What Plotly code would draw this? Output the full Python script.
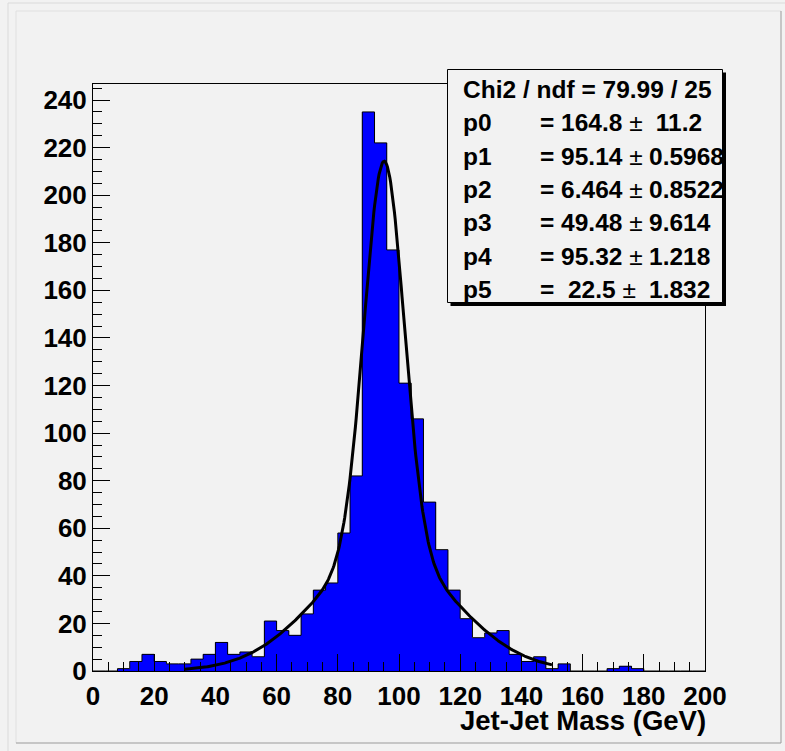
import numpy as np
import plotly.graph_objects as go

# ---------------- data ----------------
bin_low = [0, 4, 8, 12, 16, 20, 24, 28, 32, 36, 40, 44, 48, 52, 56, 60, 64, 68, 72, 76,
           80, 84, 88, 92, 96, 100, 104, 108, 112, 116, 120, 124, 128, 132, 136, 140,
           144, 148, 152, 156, 160, 164, 168, 172, 176, 180, 184, 188, 192, 196]
bin_width = 4
counts = [0, 0, 1, 4, 7, 4, 3, 3, 5, 7, 12, 7, 8, 6, 21, 17, 15, 24, 34, 37,
          58, 82, 235, 222, 177, 121, 106, 71, 51, 34, 22, 14, 16, 17, 7, 4,
          6, 1, 3, 0, 0, 0, 1, 2, 1, 0, 0, 0, 0, 0]

param_names = ["p0", "p1", "p2", "p3", "p4", "p5"]
param_values = [164.8, 95.14, 6.464, 49.48, 95.32, 22.5]
param_errors = [11.2, 0.5968, 0.8522, 9.614, 1.218, 1.832]
chi2_value = 79.99
ndf_value = 25
fit_range = [30, 150]

x_ticks = [0, 20, 40, 60, 80, 100, 120, 140, 160, 180, 200]
y_ticks = [0, 20, 40, 60, 80, 100, 120, 140, 160, 180, 200, 220, 240]
x_title = "Jet-Jet Mass (GeV)"

# ---------------- geometry ----------------
W, H = 785, 751
ML, MR, MT, MB = 93, 80, 84, 80
PW, PH = W - ML - MR, H - MT - MB
BG = "#f2f2f2"
FONT = "Liberation Sans, Arial, sans-serif"

def px(x):
    return (x - ML) / PW

def py(y):
    return (H - MB - y) / PH

# ---------------- fit curve (double Gaussian with the fit parameters shown) ----------------
p0, p1, p2, p3, p4, p5 = param_values
xf = np.linspace(fit_range[0], fit_range[1], 481)
yf = p0 * np.exp(-0.5 * ((xf - p1) / p2) ** 2) + p3 * np.exp(-0.5 * ((xf - p4) / p5) ** 2)

centers = [b + bin_width / 2 for b in bin_low]
edges = bin_low + [bin_low[-1] + bin_width]
step_y = counts + [counts[-1]]

fig = go.Figure()
fig.add_trace(go.Bar(x=centers, y=counts, width=bin_width,
                     marker=dict(color="#0000ff", line=dict(width=0)),
                     hoverinfo="skip", showlegend=False))
fig.add_trace(go.Scatter(x=edges, y=step_y, mode="lines",
                         line=dict(color="#000000", width=1, shape="hv"),
                         hoverinfo="skip", showlegend=False))
fig.add_trace(go.Scatter(x=xf, y=yf, mode="lines",
                         line=dict(color="#000000", width=3),
                         hoverinfo="skip", showlegend=False))

ymax = 1.05 * max(counts)

tickfont = dict(family=FONT, size=26, color="#000000", weight="bold")
fig.update_layout(
    width=W, height=H,
    margin=dict(l=ML, r=MR, t=MT, b=MB, autoexpand=False),
    paper_bgcolor=BG, plot_bgcolor=BG,
    bargap=0,
    showlegend=False,
    xaxis=dict(range=[0, 200], tickvals=x_ticks, ticktext=[str(v) for v in x_ticks],
               ticks="inside", ticklen=17, tickwidth=1, tickcolor="#000000",
               minor=dict(ticks="inside", ticklen=9, dtick=5, tickwidth=1, tickcolor="#000000", showgrid=False),
               showline=True, linecolor="#000000", linewidth=1, mirror=True,
               showgrid=False, zeroline=False, tickfont=tickfont, ticklabelstandoff=2),
    yaxis=dict(range=[0, ymax], tickvals=y_ticks, ticktext=[str(v) for v in y_ticks],
               ticks="inside", ticklen=17, tickwidth=1, tickcolor="#000000",
               minor=dict(ticks="inside", ticklen=9, dtick=5, tickwidth=1, tickcolor="#000000", showgrid=False),
               showline=True, linecolor="#000000", linewidth=1, mirror=True,
               showgrid=False, zeroline=False, tickfont=tickfont),
)

shapes = []
# canvas bevel borders
shapes.append(dict(type="line", xref="paper", yref="paper", x0=px(8), x1=px(785), y0=py(3), y1=py(3),
                   line=dict(color="#dadada", width=1)))
shapes.append(dict(type="line", xref="paper", yref="paper", x0=px(8), x1=px(8), y0=py(3), y1=py(751),
                   line=dict(color="#dadada", width=1)))
shapes.append(dict(type="line", xref="paper", yref="paper", x0=px(16), x1=px(781), y0=py(11), y1=py(11),
                   line=dict(color="#e0e0e0", width=1)))
shapes.append(dict(type="line", xref="paper", yref="paper", x0=px(16), x1=px(16), y0=py(11), y1=py(743),
                   line=dict(color="#e0e0e0", width=1)))
shapes.append(dict(type="line", xref="paper", yref="paper", x0=px(16), x1=px(781), y0=py(743), y1=py(743),
                   line=dict(color="#9a9a9a", width=1)))
shapes.append(dict(type="line", xref="paper", yref="paper", x0=px(781), x1=px(781), y0=py(11), y1=py(743),
                   line=dict(color="#9a9a9a", width=1)))
# stats box shadow and box
shapes.append(dict(type="rect", xref="paper", yref="paper", layer="above",
                   x0=px(450.5), x1=px(726), y0=py(72.5), y1=py(306),
                   fillcolor="#000000", line=dict(width=0)))
shapes.append(dict(type="rect", xref="paper", yref="paper", layer="above",
                   x0=px(447.5), x1=px(722.5), y0=py(69.5), y1=py(302.5),
                   fillcolor=BG, line=dict(color="#000000", width=1)))
fig.update_layout(shapes=shapes)

NB = "\u00a0"
sfont = dict(family=FONT, size=24.5, color="#000000", weight="bold")
ann = []
row_y = [89.5, 122.8, 156.2, 189.6, 223.0, 256.4, 289.8]
ann.append(dict(xref="paper", yref="paper", x=px(461), y=py(row_y[0]), xanchor="left", yanchor="middle",
                text=f"Chi2 / ndf = {chi2_value:.2f} / {ndf_value}", showarrow=False, font=sfont))
for i, (nm, v, e) in enumerate(zip(param_names, param_values, param_errors)):
    yy = py(row_y[i + 1])
    vs = f"{v:.4g}".rjust(5, NB)
    es = f"{e:.4g}".rjust(5, NB)
    ann.append(dict(xref="paper", yref="paper", x=px(461), y=yy, xanchor="left", yanchor="middle",
                    text=nm, showarrow=False, font=sfont))
    ann.append(dict(xref="paper", yref="paper", x=px(537.5), y=yy, xanchor="left", yanchor="middle",
                    text=f"={NB}{vs}{NB}<span style='font-weight:normal'>±</span>", showarrow=False, font=sfont))
    ann.append(dict(xref="paper", yref="paper", x=px(646.5), y=yy, xanchor="left", yanchor="middle",
                    text=es, showarrow=False, font=sfont))
# x axis title
ann.append(dict(xref="paper", yref="paper", x=px(708), y=py(720), xanchor="right", yanchor="middle",
                text=x_title, showarrow=False, font=dict(family=FONT, size=27.5, color="#000000", weight="bold")))
fig.update_layout(annotations=ann)

fig.write_html("out.html")
